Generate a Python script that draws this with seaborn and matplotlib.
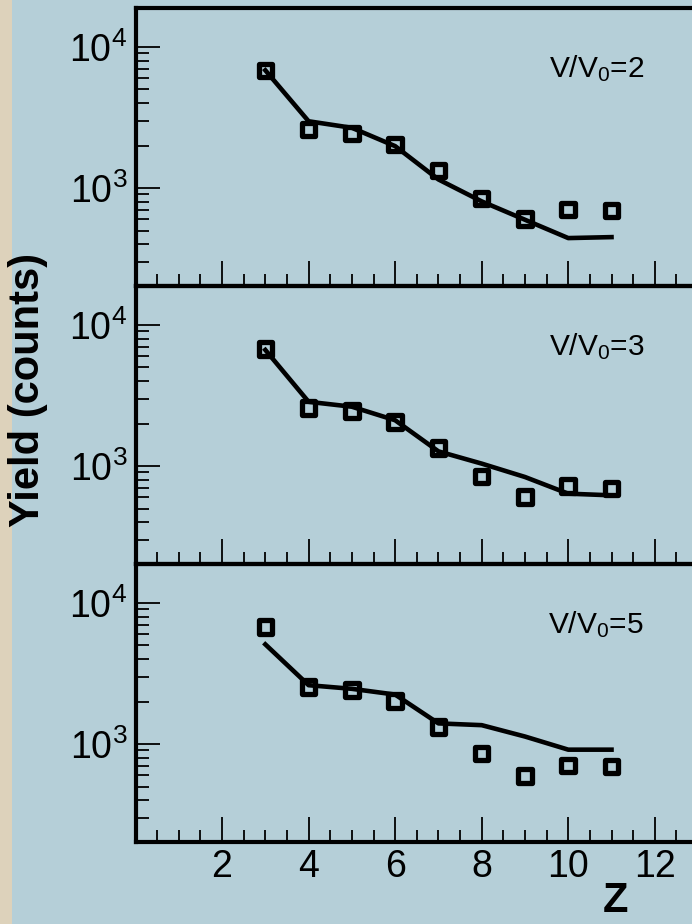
import matplotlib
matplotlib.use("Agg")
import matplotlib.pyplot as plt
import matplotlib.ticker as mticker
from matplotlib.patches import Rectangle
import seaborn as sns

# ---------------- data ----------------
Z = [3, 4, 5, 6, 7, 8, 9, 10, 11]
exp_v2 = [6820, 2590, 2430, 2030, 1330, 840, 603, 705, 693]
calc_v2 = [6820, 2970, 2670, 1980, 1150, 804, 596, 442, 449]
exp_v3 = [6750, 2580, 2450, 2050, 1340, 845, 603, 721, 691]
calc_v3 = [6640, 2850, 2630, 2110, 1270, 1040, 836, 637, 620]
exp_v5 = [6750, 2530, 2410, 2010, 1320, 855, 596, 706, 695]
calc_v5 = [5080, 2610, 2460, 2240, 1400, 1360, 1130, 912, 912]
panel_labels = [r"V/V$_\mathregular{0}$=2", r"V/V$_\mathregular{0}$=3", r"V/V$_\mathregular{0}$=5"]
x_ticks = [2, 4, 6, 8, 10, 12]
y_ticks = [1e3, 1e4]
y_ticklabels = [r"$\mathregular{10^{3}}$", r"$\mathregular{10^{4}}$"]

plt.rcParams["font.family"] = ["Liberation Sans", "DejaVu Sans"]
plt.rcParams["mathtext.fontset"] = "custom"
plt.rcParams["mathtext.rm"] = "Liberation Sans"
plt.rcParams["mathtext.it"] = "Liberation Sans"
plt.rcParams["mathtext.bf"] = "Liberation Sans:bold"

BG = "#b5cfd8"
BEIGE = "#ddd2bb"

W, H = 692, 924
fig = plt.figure(figsize=(W / 100, H / 100), dpi=100, facecolor=BG)
fig.patches.append(Rectangle((0, 0), 12 / W, 1, transform=fig.transFigure,
                             facecolor=BEIGE, edgecolor="none", zorder=0))

left = 135.5 / W
width = 1 - left
ph = 278 / H
bottoms = [638 / H, 360 / H, 82 / H]

series = [(exp_v2, calc_v2), (exp_v3, calc_v3), (exp_v5, calc_v5)]

for i, (b, (ex, ca), lab) in enumerate(zip(bottoms, series, panel_labels)):
    ax = fig.add_axes([left, b, width, ph])
    ax.set_facecolor("none")
    ax.set_yscale("log")
    sns.lineplot(x=Z, y=ca, ax=ax, color="black", linewidth=3.3, zorder=2)
    sns.scatterplot(x=Z, y=ex, ax=ax, marker="s", s=95, facecolor="none",
                    edgecolor="black", linewidth=3.8, zorder=3)
    ax.set_xlim(0, 12.86)
    ax.set_ylim(10 ** 2.306, 10 ** 4.275)

    ax.set_xticks(x_ticks)
    ax.xaxis.set_minor_locator(mticker.MultipleLocator(0.5))
    ax.set_yticks(y_ticks, labels=y_ticklabels)
    ax.yaxis.set_minor_locator(mticker.LogLocator(base=10, subs=range(2, 10)))
    ax.yaxis.set_minor_formatter(mticker.NullFormatter())

    ax.tick_params(axis="x", which="major", direction="in", length=18, width=1.3,
                   labelsize=27, pad=5, labelbottom=(i == 2))
    ax.tick_params(axis="x", which="minor", direction="in", length=8.6, width=1.3)
    ax.tick_params(axis="y", which="major", direction="in", length=17, width=1.3,
                   labelsize=27, pad=6)
    ax.tick_params(axis="y", which="minor", direction="in", length=9.4, width=1.3)

    for side in ("left", "top", "bottom"):
        ax.spines[side].set_linewidth(3.0)
        ax.spines[side].set_color("black")
    ax.spines["right"].set_visible(False)
    ax.set_xlabel("")
    ax.set_ylabel("")

    ax.text(0.914, 0.752, lab, transform=ax.transAxes, ha="right", va="baseline",
            fontsize=21.5, color="black")

fig.text(28 / W, 1 - 390 / H, "Yield (counts)", rotation=90, ha="center",
         va="center", fontsize=30, fontweight="bold")
fig.text(615 / W, 3 / H, "Z", ha="center", va="bottom", fontsize=30,
         fontweight="bold")

fig.savefig("out.png", dpi=100, facecolor=BG)
